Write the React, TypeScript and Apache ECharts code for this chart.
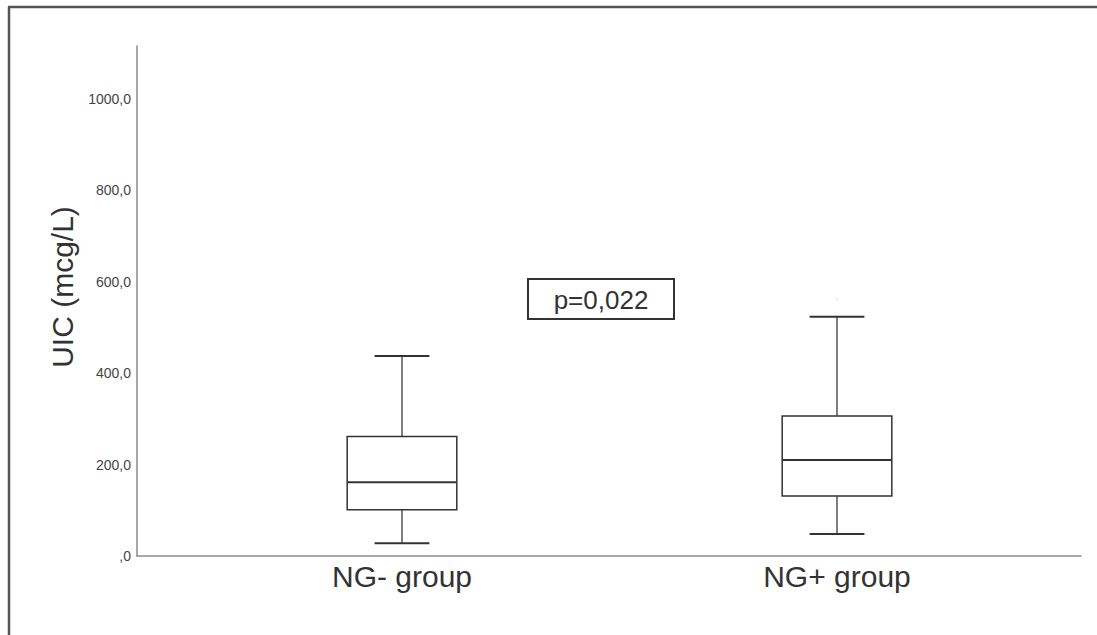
import React, { useEffect, useRef } from "react";
import * as echarts from "echarts";

const categories = ["NG- group", "NG+ group"];
const lowerWhisker = [28, 48];
const q1 = [101, 131];
const median = [161, 210];
const q3 = [261, 306];
const upperWhisker = [437, 523];
const outliers: [number, number][] = [[1, 562]];
const yMin = 0;
const yMax = 1115;
const yInterval = 200;
const yTitle = "UIC (mcg/L)";
const pValueLabel = "p=0,022";

const FONT = "'Liberation Sans', Arial, Helvetica, sans-serif";

export default function App() {
  const ref = useRef<HTMLDivElement>(null);
  useEffect(() => {
    document.body.style.margin = "0";
    document.body.style.overflow = "hidden";
    if (!ref.current) return;
    const chart = echarts.init(ref.current, undefined, { renderer: "svg" });
    const boxData = categories.map((_, i) => [i, lowerWhisker[i], q1[i], median[i], q3[i], upperWhisker[i]]);
    const stroke = "#333";
    const option: any = {
      animation: false,
      backgroundColor: "#fff",
      grid: [
        { left: 137, right: 16, top: 46, bottom: 79 },
        { left: 184.5, right: 42.5, top: 46, bottom: 79 },
      ],
      xAxis: [
        {
          type: "value", gridIndex: 0, min: 0, max: 1,
          axisLine: { show: true, lineStyle: { color: "#8a8a8a", width: 1.5 } },
          axisTick: { show: false }, axisLabel: { show: false }, splitLine: { show: false },
        },
        {
          type: "category", gridIndex: 1, data: categories, boundaryGap: true,
          axisLine: { show: false }, axisTick: { show: false }, splitLine: { show: false },
          axisLabel: { fontSize: 30, color: "#333", fontFamily: FONT, margin: 5 },
        },
      ],
      yAxis: [
        {
          type: "value", gridIndex: 0, min: yMin, max: yMax, interval: yInterval,
          axisLine: { show: true, lineStyle: { color: "#8a8a8a", width: 1.5 } },
          axisTick: { show: false }, splitLine: { show: false },
          axisLabel: {
            showMaxLabel: false, fontSize: 14, color: "#444", fontFamily: FONT, margin: 6,
            formatter: (v: number) => (v === 0 ? ",0" : v.toFixed(1).replace(".", ",")),
          },
        },
        {
          type: "value", gridIndex: 1, min: yMin, max: yMax, interval: yInterval, show: false,
          splitLine: { show: false },
        },
      ],
      series: [
        {
          type: "custom", xAxisIndex: 1, yAxisIndex: 1, data: boxData,
          encode: { x: 0, y: [1, 2, 3, 4, 5] },
          renderItem: (params: any, api: any) => {
            const i = api.value(0);
            const lo = api.coord([i, api.value(1)]);
            const b1 = api.coord([i, api.value(2)]);
            const md = api.coord([i, api.value(3)]);
            const b3 = api.coord([i, api.value(4)]);
            const hi = api.coord([i, api.value(5)]);
            const band = api.size([1, 0])[0];
            const cx = lo[0];
            const bh = band * 0.126;
            const ch = band * 0.063;
            const whisk = { stroke: "#555", lineWidth: 1.5 };
            const cap = { stroke: stroke, lineWidth: 2 };
            return {
              type: "group",
              children: [
                { type: "line", shape: { x1: cx, y1: b3[1], x2: cx, y2: hi[1] }, style: whisk },
                { type: "line", shape: { x1: cx, y1: b1[1], x2: cx, y2: lo[1] }, style: whisk },
                { type: "line", shape: { x1: cx - ch, y1: hi[1], x2: cx + ch, y2: hi[1] }, style: cap },
                { type: "line", shape: { x1: cx - ch, y1: lo[1], x2: cx + ch, y2: lo[1] }, style: cap },
                {
                  type: "rect",
                  shape: { x: cx - bh, y: b3[1], width: bh * 2, height: b1[1] - b3[1] },
                  style: { fill: "#fff", stroke: stroke, lineWidth: 1.5 },
                },
                { type: "line", shape: { x1: cx - bh, y1: md[1], x2: cx + bh, y2: md[1] }, style: { stroke: stroke, lineWidth: 2 } },
              ],
            };
          },
        },
        {
          type: "scatter", xAxisIndex: 1, yAxisIndex: 1, data: outliers,
          symbolSize: 2, itemStyle: { color: "#ddd" },
        },
      ],
      graphic: [
        {
          type: "line", shape: { x1: 9, y1: 635, x2: 9, y2: 7 },
          style: { stroke: "#555", lineWidth: 2.5 }, silent: true,
        },
        {
          type: "line", shape: { x1: 8, y1: 7, x2: 1097, y2: 7 },
          style: { stroke: "#555", lineWidth: 2.5, lineCap: "butt" }, silent: true,
        },
        {
          type: "text", x: 62, y: 287, rotation: Math.PI / 2,
          style: { text: yTitle, fontSize: 30, fontFamily: FONT, fill: "#333", align: "center", verticalAlign: "middle" },
        },
        {
          type: "rect", shape: { x: 528, y: 279, width: 146, height: 40 },
          style: { fill: "#fff", stroke: "#333", lineWidth: 2 },
        },
        {
          type: "text", x: 601, y: 300,
          style: { text: pValueLabel, fontSize: 26, fontFamily: FONT, fill: "#333", align: "center", verticalAlign: "middle" },
        },
      ],
    };
    chart.setOption(option);
    return () => chart.dispose();
  }, []);
  return <div ref={ref} style={{ width: 1097, height: 635, overflow: "hidden" }} />;
}
